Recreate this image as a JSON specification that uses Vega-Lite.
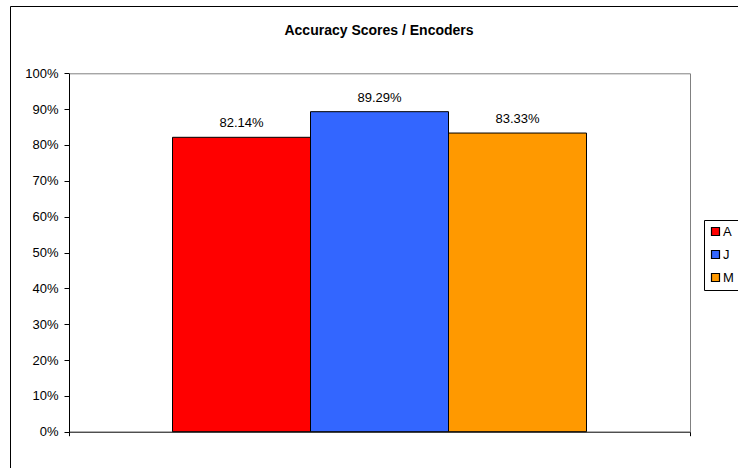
{
  "$schema": "https://vega.github.io/schema/vega-lite/v6.json",
  "autosize": "none",
  "padding": {"left": 10, "top": 6, "right": 0, "bottom": 0},
  "width": 728,
  "height": 462,
  "background": "white",
  "title": {
    "text": "Accuracy Scores / Encoders",
    "font": "Liberation Sans",
    "fontSize": 14,
    "fontWeight": "bold",
    "color": "black",
    "anchor": "middle",
    "dx": 5,
    "offset": -32
  },
  "data": {
    "values": [
      {"encoder": "A", "score": 0.8214},
      {"encoder": "J", "score": 0.8929},
      {"encoder": "M", "score": 0.8333}
    ]
  },
  "encoding": {
    "x": {
      "datum": "Encoders",
      "type": "nominal",
      "scale": {"range": [59, 680], "paddingInner": 0, "paddingOuter": 0}
    },
    "xOffset": {
      "field": "encoder",
      "type": "nominal",
      "scale": {"paddingInner": 0, "paddingOuter": 0.75}
    },
    "y": {
      "field": "score",
      "type": "quantitative",
      "scale": {"domain": [0, 1], "range": [425.7, 67.3], "nice": false, "zero": true}
    }
  },
  "layer": [
    {
      "mark": {"type": "bar", "stroke": "black", "strokeWidth": 1},
      "encoding": {
        "x": {
          "datum": "Encoders",
          "type": "nominal",
          "axis": {
            "orient": "bottom",
            "offset": -36.3,
            "title": null,
            "labels": false,
            "domainColor": "black",
            "domainWidth": 1,
            "tickColor": "black",
            "tickSize": 4,
            "tickBand": "extent",
            "grid": false
          }
        },
        "y": {
          "field": "score",
          "type": "quantitative",
          "axis": {
            "orient": "left",
            "offset": -59,
            "title": null,
            "values": [0, 0.1, 0.2, 0.3, 0.4, 0.5, 0.6, 0.7, 0.8, 0.9, 1],
            "format": ".0%",
            "labelFont": "Liberation Sans",
            "labelFontSize": 13,
            "labelColor": "black",
            "labelPadding": 6,
            "domainColor": "black",
            "domainWidth": 1,
            "tickColor": "black",
            "tickSize": 5,
            "grid": false
          }
        },
        "color": {
          "field": "encoder",
          "type": "nominal",
          "scale": {"domain": ["A", "J", "M"], "range": ["#FF0000", "#3366FF", "#FF9900"]},
          "legend": {
            "title": null,
            "orient": "none",
            "legendX": 694,
            "legendY": 214,
            "direction": "vertical",
            "symbolType": "square",
            "symbolSize": 64,
            "symbolStrokeColor": "black",
            "symbolStrokeWidth": 1.2,
            "symbolOpacity": 1,
            "labelFont": "Liberation Sans",
            "labelFontSize": 13,
            "labelColor": "black",
            "labelOffset": 1,
            "rowPadding": 9,
            "padding": 5,
            "strokeColor": "black",
            "fillColor": "white",
            "cornerRadius": 0
          }
        }
      }
    },
    {
      "mark": {
        "type": "text",
        "font": "Liberation Sans",
        "fontSize": 13,
        "color": "black",
        "baseline": "alphabetic",
        "dy": -10
      },
      "encoding": {
        "x": {
          "datum": "Encoders",
          "type": "nominal",
          "axis": {
            "orient": "top",
            "offset": -67.3,
            "title": null,
            "labels": false,
            "ticks": false,
            "domainColor": "#808080",
            "domainWidth": 1,
            "grid": false
          }
        },
        "y": {
          "field": "score",
          "type": "quantitative",
          "axis": {
            "orient": "right",
            "offset": -48,
            "title": null,
            "labels": false,
            "ticks": false,
            "domainColor": "#808080",
            "domainWidth": 1,
            "grid": false
          }
        },
        "text": {"field": "score", "type": "quantitative", "format": ".2%"}
      }
    }
  ],
  "config": {
    "view": {"stroke": "black", "strokeWidth": 1}
  }
}
